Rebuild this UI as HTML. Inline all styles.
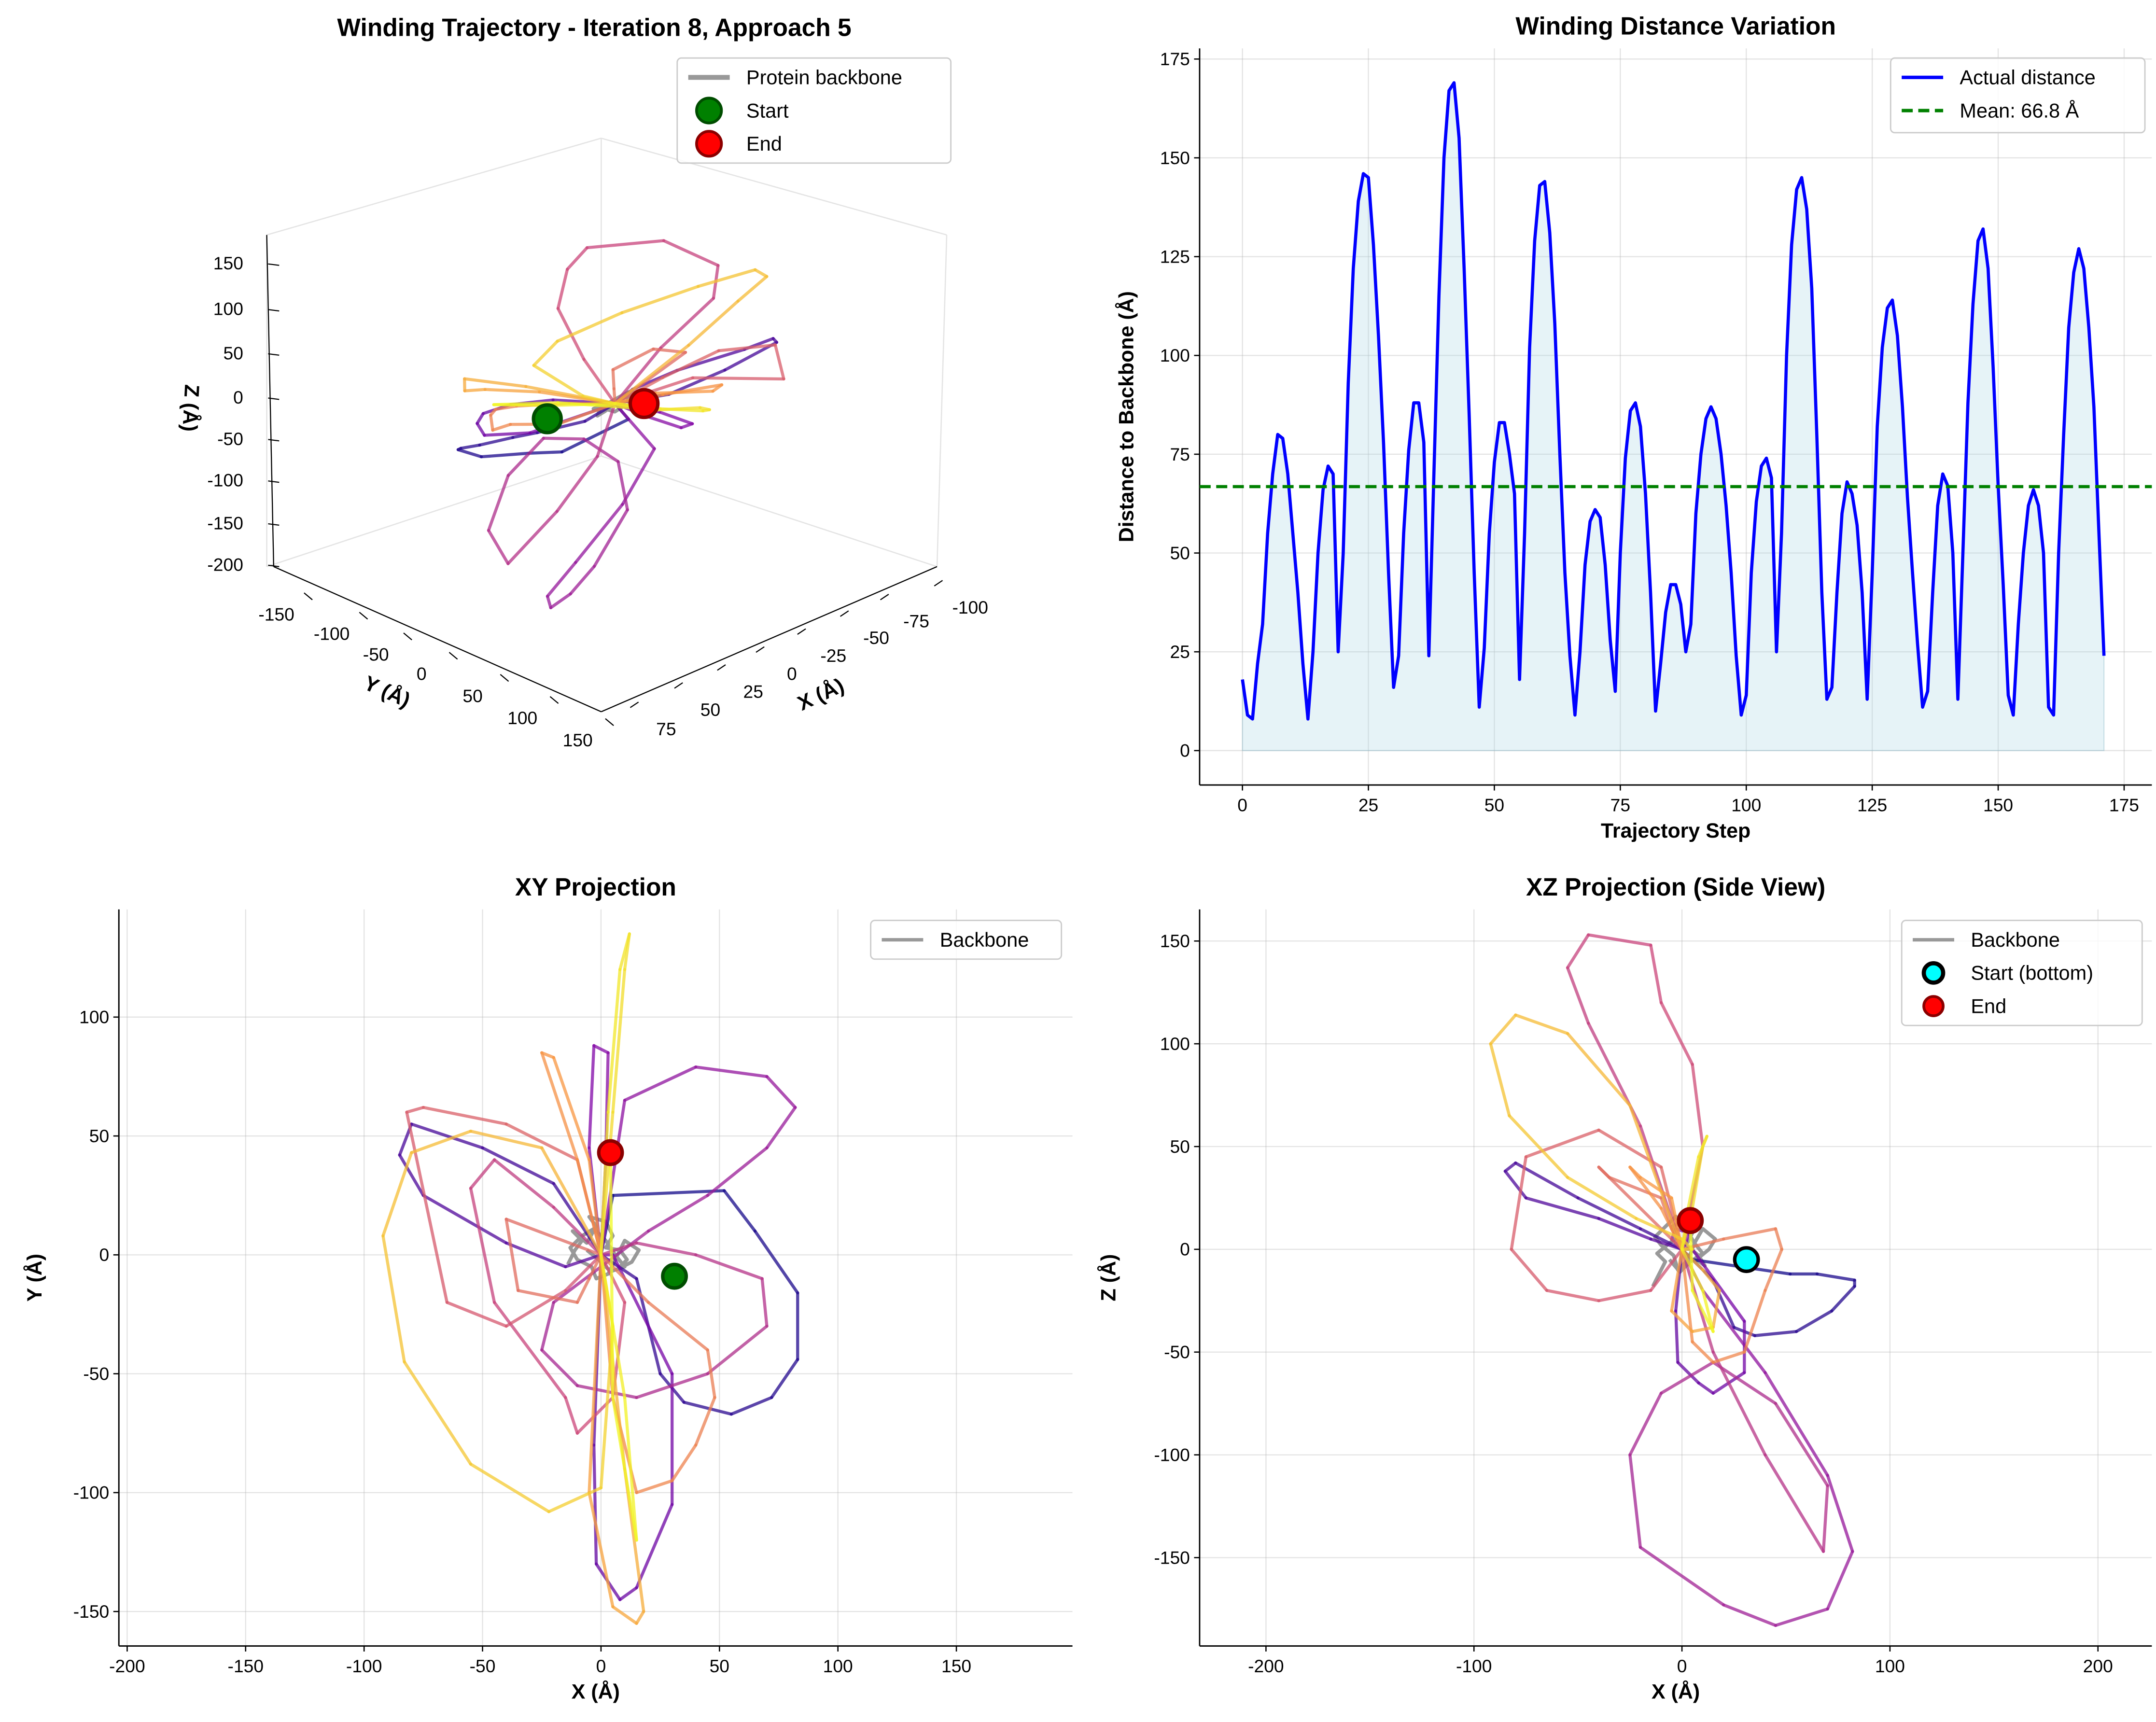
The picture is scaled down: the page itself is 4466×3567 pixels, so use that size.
<!DOCTYPE html>
<html><head><meta charset="utf-8"><style>
html,body{margin:0;padding:0;background:#fff;}
svg{display:block;font-family:"Liberation Sans","DejaVu Sans",sans-serif;}
</style></head><body>
<svg id="fig" width="4466" height="3567" viewBox="0 0 1560 1246" xmlns="http://www.w3.org/2000/svg">
<rect width="1560" height="1246" fill="#fff"/>
</svg>
<script>
// ---------- distance data ----------
const distValues = [18,9,8,22,32,55,70,80,79,70,55,40,22,8,25,50,66,72,70,25,50,93,122,139,146,145,128,105,78,45,16,24,55,76,88,88,78,24,70,115,150,167,169,155,122,85,45,11,26,55,73,83,83,75,65,18,55,102,129,143,144,131,108,75,45,24,9,25,47,58,61,59,47,28,15,50,74,86,88,82,65,40,10,22,35,42,42,37,25,32,60,75,84,87,84,75,62,45,24,9,14,45,63,72,74,69,25,55,100,128,142,145,137,117,80,40,13,16,40,60,68,65,57,40,13,45,82,102,112,114,105,87,64,45,27,11,15,40,62,70,67,50,13,50,88,113,129,132,122,97,67,42,14,9,32,50,62,66,62,50,11,9,50,80,107,121,127,122,107,87,55,24];
const distMean = 66.8;
const distXTicks = [0,25,50,75,100,125,150,175];
const distYTicks = [0,25,50,75,100,125,150,175];

// ---------- trajectory data (Å) ----------
const trajX = [0,5,52,65,83,83,72,55,35,25,15, 0,-20,-50,-80,-85,-75,-40,-15, 0,-3,-2,8,15,30,30,5, 0,-5,-3,3,2, 0,10,40,70,82,70,45,20,-20,-25,-10,15,45,70,68,40,15, 0,-20,-45,-55,-45,-15,-10,5,10, 0,-15,-40,-65,-82,-75,-40,-10, 0,-40,-35,-10,-5, 0,20,45,48,40,30,15,5, 0,-10,-25,-20,-5,0,-5,5,15,18,10, 0,-25,-55,-80,-92,-83,-55,-22,0,5, 0,5,10,12,8,3,0,10,15,5,4];
const trajY = [0,25,27,10,-16,-44,-60,-67,-62,-50,-10, 0,30,45,55,42,25,5,-5, 0,-80,-130,-145,-140,-105,-50,0, 0,45,88,85,40, 0,65,79,75,62,45,25,10,-20,-40,-55,-60,-50,-30,-10,0,5, 0,20,40,28,-20,-60,-75,-60,-20, 0,-15,-30,-20,60,62,55,40, 0,15,-15,-20,-10, 0,-20,-40,-60,-80,-95,-100,-60, 0,40,85,83,40,0,-100,-148,-155,-150,-90, 0,45,52,43,8,-45,-88,-108,-98,-30, 0,60,120,135,120,60,0,-60,-120,-60,43];
const trajZ = [0,-5,-12,-12,-15,-18,-30,-40,-42,-38,-15, 0,10,25,42,38,25,15,5, 0,-30,-55,-65,-70,-60,-35,0, 0,5,10,8,3, 0,-20,-60,-110,-147,-175,-183,-173,-145,-100,-70,-55,-75,-115,-147,-100,-50, 0,60,110,137,153,148,120,90,50, 0,-20,-25,-20,0,45,58,40, 0,40,35,25,10, 0,5,10,0,-20,-50,-55,-45, 0,20,40,35,25,0,-30,-40,-38,-20,-10, 0,70,105,114,100,65,35,15,5,0, 0,20,50,55,45,20,0,-20,-40,-20,14];
const bbX = [-14,-11,-8,-12,-6,-2,-5,2,5,2,8,11,7,13,16,10,6,3,-2,-4,-10,-13,-8,-3,2,6,10,4,-1,-6];
const bbY = [-4,2,6,10,5,12,16,14,8,3,2,-2,-6,-3,2,6,-2,-8,-10,-5,-2,3,8,11,6,0,-5,-7,-2,2];
const bbZ = [-18,-12,-6,-2,3,6,11,14,8,2,-3,-8,-5,0,5,10,3,-5,-10,-3,2,6,11,16,10,3,-2,-6,-11,-5];
const startXYZ = [31,-9,-5];
const endXYZ = [4,43,14];

const NS="http://www.w3.org/2000/svg";
const svg=document.getElementById('fig');
function mk(tag,attrs,parent){const e=document.createElementNS(NS,tag);for(const k in attrs)e.setAttribute(k,attrs[k]);(parent||svg).appendChild(e);return e;}
function txt(x,y,s,opts,parent){const o=Object.assign({x:x,y:y,'font-size':13,fill:'#000'},opts||{});const e=mk('text',o,parent);e.textContent=s;return e;}
function plasma(t){const st=[[13,8,135],[126,3,168],[204,71,120],[248,149,64],[240,249,33]];const p=Math.max(0,Math.min(1,t))*4;const i=Math.min(3,Math.floor(p));const f=p-i;const a=st[i],b=st[i+1];return `rgb(${Math.round(a[0]+(b[0]-a[0])*f)},${Math.round(a[1]+(b[1]-a[1])*f)},${Math.round(a[2]+(b[2]-a[2])*f)})`;}

// ---------- generic 2D axes ----------
function axes2D(cfg){
  const g=mk('g',{});
  
  
  const sx=v=>cfg.l+(v-cfg.x0)/(cfg.x1-cfg.x0)*(cfg.r-cfg.l);
  const sy=v=>cfg.b-(v-cfg.y0)/(cfg.y1-cfg.y0)*(cfg.b-cfg.t);
  cfg.xt.forEach(v=>{const X=sx(v);
    const gl=mk('line',{x1:X,x2:X,y1:cfg.t,y2:cfg.b,stroke:'#b0b0b0','stroke-width':0.8,'stroke-opacity':0.35},g);
    
    mk('line',{x1:X,x2:X,y1:cfg.b,y2:cfg.b+4,stroke:'#000','stroke-width':0.9},g);
    const t=txt(X,cfg.b+19,String(v),{'text-anchor':'middle'},g);
    });
  cfg.yt.forEach(v=>{const Y=sy(v);
    const gl=mk('line',{x1:cfg.l,x2:cfg.r,y1:Y,y2:Y,stroke:'#b0b0b0','stroke-width':0.8,'stroke-opacity':0.35},g);
    
    mk('line',{x1:cfg.l-4,x2:cfg.l,y1:Y,y2:Y,stroke:'#000','stroke-width':0.9},g);
    const t=txt(cfg.l-7,Y+4.5,String(v),{'text-anchor':'end'},g);
    });
  const sp1=mk('line',{x1:cfg.l,x2:cfg.l,y1:cfg.t,y2:cfg.b,stroke:'#000','stroke-width':1},g);
  
  const sp2=mk('line',{x1:cfg.l,x2:cfg.r,y1:cfg.b,y2:cfg.b,stroke:'#000','stroke-width':1},g);
  
  const tt=txt((cfg.l+cfg.r)/2,cfg.t-10,cfg.title,{'text-anchor':'middle','font-size':18,'font-weight':'bold'},g);
  
  const xl=txt((cfg.l+cfg.r)/2,cfg.b+38,cfg.xlabel,{'text-anchor':'middle','font-size':15,'font-weight':'bold'},g);
  
  const yx=cfg.ylx, yy=(cfg.t+cfg.b)/2;
  const yl=txt(yx,yy,cfg.ylabel,{'text-anchor':'middle','font-size':15,'font-weight':'bold',transform:`rotate(-90 ${yx} ${yy})`},g);
  
  return {g,sx,sy};
}
function legend(x,y,w,h,items){
  const g=mk('g',{});
  
  
  mk('rect',{x:x,y:y,width:w,height:h,rx:3,fill:'#fff','fill-opacity':0.8,stroke:'#ccc'},g);
  items.forEach((it,i)=>{const cy=y+14+i*24;
    const e=mk('g',{},g);
    
    
    if(it.type==='line')mk('line',{x1:x+8,x2:x+38,y1:cy,y2:cy,stroke:it.color,'stroke-width':it.w||2.5,'stroke-dasharray':it.dash||'','stroke-opacity':it.op||1},e);
    else mk('circle',{cx:x+23,cy:cy,r:it.r||8,fill:it.color,stroke:it.edge,'stroke-width':it.ew||2},e);
    txt(x+50,cy+5,it.label,{'font-size':14.5},e);});
}

// ---------- Distance chart ----------
(function(){
  const a=axes2D({name:'distance-chart',l:868,r:1557,t:35,b:568,x0:-8.5,x1:180.5,y0:-8.7,y1:177.7,xt:distXTicks,yt:distYTicks,title:'Winding Distance Variation',xlabel:'Trajectory Step',ylabel:'Distance to Backbone (Å)',ylx:820});
  let d='M'+a.sx(0)+','+a.sy(0);
  distValues.forEach((v,i)=>{d+=' L'+a.sx(i)+','+a.sy(v);});
  d+=' L'+a.sx(distValues.length-1)+','+a.sy(0)+' Z';
  const f=mk('path',{d:d,fill:'#add8e6','fill-opacity':0.3,stroke:'#8fb8c8','stroke-opacity':0.4,'stroke-width':0.8},a.g);
  
  const pts=distValues.map((v,i)=>a.sx(i)+','+a.sy(v)).join(' ');
  const l=mk('polyline',{points:pts,fill:'none',stroke:'#0000ff','stroke-width':2.3,'stroke-linejoin':'round'},a.g);
  
  const m=mk('line',{x1:868,x2:1557,y1:a.sy(distMean),y2:a.sy(distMean),stroke:'#008000','stroke-width':2.3,'stroke-dasharray':'8,4'},a.g);
  
  legend(1368,42,184,54,[{type:'line',color:'#0000ff',label:'Actual distance'},{type:'line',color:'#008000',dash:'8,4',label:'Mean: '+distMean+' Å'}]);
})();

function drawTraj(g,P,name){
  const N=trajX.length;
  for(let i=0;i<N-1;i++){
    const a=P(trajX[i],trajY[i],trajZ[i]),b=P(trajX[i+1],trajY[i+1],trajZ[i+1]);
    const s=mk('line',{x1:a[0],y1:a[1],x2:b[0],y2:b[1],stroke:plasma(i/(N-2)),'stroke-width':2.2,'stroke-opacity':0.75,'stroke-linecap':'round'},g);
    
    
  }
}
function drawBB(g,P){
  const pts=bbX.map((x,i)=>P(x,bbY[i],bbZ[i]).join(',')).join(' ');
  const b=mk('polyline',{points:pts,fill:'none',stroke:'#808080','stroke-width':2.6,'stroke-opacity':0.8,'stroke-linejoin':'round'},g);
  
}
function marker(g,p,fill,edge,name,r){
  const c=mk('circle',{cx:p[0],cy:p[1],r:r||8.5,fill:fill,stroke:edge,'stroke-width':2.5},g);
  
}

// ---------- XY ----------
(function(){
  const a=axes2D({name:'xy-projection',l:86,r:776,t:658,b:1191,x0:-203.5,x1:199,y0:-164.5,y1:145.3,xt:[-200,-150,-100,-50,0,50,100,150],yt:[-150,-100,-50,0,50,100],title:'XY Projection',xlabel:'X (Å)',ylabel:'Y (Å)',ylx:30});
  const P=(x,y,z)=>[a.sx(x),a.sy(y)];
  drawBB(a.g,P);drawTraj(a.g,P,'xy-trajectory');
  marker(a.g,P(startXYZ[0],startXYZ[1]),'#008000','#004d00','xy-start-marker');
  marker(a.g,P(endXYZ[0],endXYZ[1]),'#ff0000','#8b0000','xy-end-marker');
  legend(630,666,138,28,[{type:'line',color:'#808080',op:0.8,label:'Backbone'}]);
})();

// ---------- XZ ----------
(function(){
  const a=axes2D({name:'xz-projection',l:868,r:1557,t:658,b:1191,x0:-231.9,x1:225.9,y0:-193,y1:165.4,xt:[-200,-100,0,100,200],yt:[-150,-100,-50,0,50,100,150],title:'XZ Projection (Side View)',xlabel:'X (Å)',ylabel:'Z (Å)',ylx:807});
  const P=(x,y,z)=>[a.sx(x),a.sy(z)];
  drawBB(a.g,P);drawTraj(a.g,P,'xz-trajectory');
  marker(a.g,P(startXYZ[0],0,startXYZ[2]),'#00ffff','#000','xz-start-marker');
  marker(a.g,P(endXYZ[0],0,endXYZ[2]),'#ff0000','#8b0000','xz-end-marker');
  legend(1376,666,174,76,[{type:'line',color:'#808080',op:0.8,label:'Backbone'},{type:'dot',color:'#00ffff',edge:'#000',r:7,ew:3,label:'Start (bottom)'},{type:'dot',color:'#ff0000',edge:'#8b0000',r:7,label:'End'}]);
})();

// ---------- 3D ----------
(function(){
  const g=mk('g',{});
  
  
  const O=[445,292];
  const P=(x,y,z)=>[O[0]-1.05*x+0.6*y, O[1]+0.4*x+0.25*y-0.62*z];
  const box=[[193,170,193,410],[193,170,435,100],[435,100,685,170],[435,100,435,330],[193,410,435,330],[435,330,678,410],[198,410,435,515],[435,515,678,410],[685,170,678,410]];
  box.forEach(b=>{const l=mk('line',{x1:b[0],y1:b[1],x2:b[2],y2:b[3],stroke:'#e4e4e4','stroke-width':0.9},g);
    });
  mk('line',{x1:193,y1:170,x2:198,y2:410,stroke:'#000','stroke-width':0.8},g);
  mk('line',{x1:198,y1:410,x2:435,y2:515,stroke:'#000','stroke-width':0.8},g);
  mk('line',{x1:435,y1:515,x2:678,y2:410,stroke:'#000','stroke-width':0.8},g);
  const zt=[[150,195],[100,228],[50,260],[0,292],[-50,322],[-100,352],[-150,383],[-200,413]];
  zt.forEach(t=>{mk('line',{x1:194,x2:202,y1:t[1]-4,y2:t[1]-3,stroke:'#000','stroke-width':0.8},g);
    const e=txt(176,t[1],String(t[0]),{'text-anchor':'end'},g);});
  const yt=[[-150,200,449],[-100,240,463],[-50,272,478],[0,305,492],[50,342,508],[100,378,524],[150,418,540]];
  yt.forEach(t=>{mk('line',{x1:t[1]+20,y1:t[2]-20,x2:t[1]+26,y2:t[2]-15,stroke:'#000','stroke-width':0.8},g);
    const e=txt(t[1],t[2],String(t[0]),{'text-anchor':'middle'},g);});
  const xt=[[75,482,532],[50,514,518],[25,545,505],[0,573,492],[-25,603,479],[-50,634,466],[-75,663,454],[-100,702,444]];
  xt.forEach(t=>{mk('line',{x1:t[1]-26,y1:t[2]-20,x2:t[1]-20,y2:t[2]-24,stroke:'#000','stroke-width':0.8},g);
    const e=txt(t[1],t[2],String(t[0]),{'text-anchor':'middle'},g);});
  const yl=txt(278,505,'Y (Å)',{'font-size':15,'font-weight':'bold','text-anchor':'middle',transform:'rotate(24 278 505)'},g);
  
  const xl=txt(596,507,'X (Å)',{'font-size':15,'font-weight':'bold','text-anchor':'middle',transform:'rotate(-25 596 507)'},g);
  
  const zl=txt(133,295,'Z (Å)',{'font-size':15,'font-weight':'bold','text-anchor':'middle',transform:'rotate(93 133 295)'},g);
  
  drawBB(g,P);drawTraj(g,P,'3d-trajectory');
  marker(g,[396,303],'#008000','#004d00','3d-start-marker',10);
  marker(g,[466,292],'#ff0000','#8b0000','3d-end-marker',10);
  const tt=txt(430,26,'Winding Trajectory - Iteration 8, Approach 5',{'text-anchor':'middle','font-size':18,'font-weight':'bold'},g);
  
  legend(490,42,198,76,[{type:'line',color:'#808080',w:3.5,op:0.8,label:'Protein backbone'},{type:'dot',color:'#008000',edge:'#004d00',r:9,label:'Start'},{type:'dot',color:'#ff0000',edge:'#8b0000',r:9,label:'End'}]);
})();
</script>
</body></html>
